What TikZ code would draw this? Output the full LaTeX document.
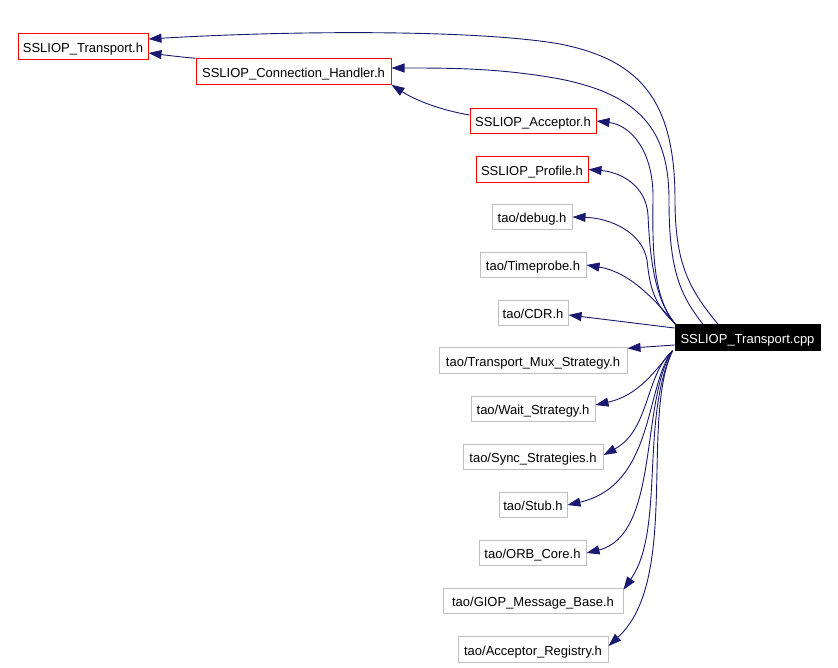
\documentclass[tikz,border=0pt]{standalone}
\usepackage{fontspec}
\setmainfont{Liberation Sans}
\usetikzlibrary{arrows.meta}
\definecolor{edgeblue}{RGB}{25,25,112}
\definecolor{boxgray}{RGB}{191,191,191}

\begin{document}
\begin{tikzpicture}[x=1pt, y=-1pt,
    file/.style={draw=boxgray, line width=1pt, minimum height=25.5pt, inner sep=0pt, text height=11pt, text depth=0pt, font=\fontsize{13}{15}\selectfont},
    redfile/.style={file, draw=red},
    dep/.style={draw=edgeblue, line width=0.9pt, -{Triangle[length=13pt, width=9pt]}}]
    \useasboundingbox (0,0) rectangle (838,667);
    \node (trans) [redfile, minimum width=130pt] at (83,46.5) {SSLIOP\_Transport.h};
    \node (conn) [redfile, minimum width=195pt] at (293.5,71.5) {SSLIOP\_Connection\_Handler.h};
    \node (acceptor) [redfile, minimum width=126pt] at (533,121) {SSLIOP\_Acceptor.h};
    \node (profile) [redfile, minimum width=112pt] at (532,169.5) {SSLIOP\_Profile.h};
    \node (debug) [file, minimum width=80pt] at (532,217) {tao/debug.h};
    \node (timeprobe) [file, minimum width=106pt] at (533,265) {tao/Timeprobe.h};
    \node (cdr) [file, minimum width=70pt] at (533,313) {tao/CDR.h};
    \node (cpp) [file, draw=black, fill=black, text=white, minimum width=145pt] at (747.5,337.5) {SSLIOP\_Transport.cpp};
    \node (mux) [file, minimum width=188pt] at (533,360.5) {tao/Transport\_Mux\_Strategy.h};
    \node (wait) [file, minimum width=124pt] at (533,409) {tao/Wait\_Strategy.h};
    \node (sync) [file, minimum width=140pt] at (533,457) {tao/Sync\_Strategies.h};
    \node (stub) [file, minimum width=68pt] at (533,505) {tao/Stub.h};
    \node (orbcore) [file, minimum width=107pt] at (532.5,553) {tao/ORB\_Core.h};
    \node (giop) [file, minimum width=180pt] at (533,601) {tao/GIOP\_Message\_Base.h};
    \node (accreg) [file, minimum width=150pt] at (533,649.5) {tao/Acceptor\_Registry.h};

    \draw[dep] ([xshift=-29.5pt]cpp.north) .. controls (690,290) and (675,265) .. (675,200)
        .. controls (675,100) and (640,60) .. (560,44) .. controls (480,30) and (300,30) .. ([yshift=7.5pt]trans.east);
    \draw[dep] ([xshift=-44.5pt]cpp.north) .. controls (680,295) and (669,270) .. (669,200)
        .. controls (669,130) and (640,95) .. (560,79) .. controls (500,68) and (450,68) .. ([yshift=3.5pt]conn.east);
    \draw[dep] (conn.north west) .. controls (180,57) and (165,55) .. ([yshift=-6.5pt]trans.east);
    \draw[dep] ([yshift=6pt]acceptor.west) .. controls (440,110) and (415,100) .. (conn.south east);
    \draw[dep] ([xshift=1pt]cpp.north west) .. controls (655,300) and (652,260) .. (653,200)
        .. controls (654,150) and (630,125) .. (acceptor.east);
    \draw[dep] ([xshift=1pt]cpp.north west) .. controls (655,300) and (650,260) .. (648,215)
        .. controls (646,185) and (620,172) .. (profile.east);
    \draw[dep] ([xshift=1pt]cpp.north west) .. controls (655,305) and (650,290) .. (647,260)
        .. controls (642,232) and (610,218) .. (debug.east);
    \draw[dep] ([xshift=1pt]cpp.north west) .. controls (655,300) and (630,272) .. (timeprobe.east);
    \draw[dep] ([yshift=9.5pt]cpp.west) -- ([yshift=-2pt]cdr.east);
    \draw[dep] ([yshift=-7.5pt]cpp.west) -- ([yshift=-1pt]mux.north east);
    \draw[dep] ([xshift=-2pt]cpp.south west) .. controls (655,370) and (640,395) .. ([yshift=4pt]wait.east);
    \draw[dep] ([xshift=-2pt]cpp.south west) .. controls (645,375) and (650,430) .. ([yshift=2pt]sync.east);
    \draw[dep] ([xshift=-2pt]cpp.south west) .. controls (645,385) and (655,485) .. (stub.east);
    \draw[dep] ([xshift=-2pt]cpp.south west) .. controls (640,400) and (660,535) .. (orbcore.east);
    \draw[dep] ([xshift=-2pt]cpp.south west) .. controls (640,420) and (665,530) .. ([yshift=-2pt]giop.north east);
    \draw[dep] ([xshift=-2pt]cpp.south west) .. controls (640,420) and (680,580) .. ([yshift=3.5pt]accreg.east);
\end{tikzpicture}
\end{document}
